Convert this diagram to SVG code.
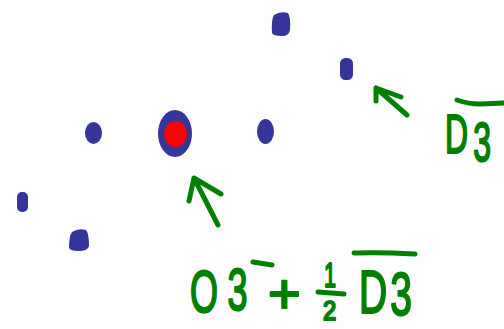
<svg xmlns="http://www.w3.org/2000/svg" width="504" height="329" viewBox="0 0 504 329">
<style>
.dot{fill:#35359b}
.core{fill:#ff0000}
.ink{fill:none;stroke:#008000;stroke-width:5;stroke-linecap:round;stroke-linejoin:round}
.t{font-family:"Liberation Sans",Arial,sans-serif;fill:#008000;stroke:#008000;stroke-width:2.2;stroke-linejoin:round}
</style>
<rect width="504" height="329" fill="#ffffff"/>
<g id="atoms">
<path id="atom1" class="dot" d="M274,15 Q280,11 288,13 Q291,18 290,30 Q289,36 282,36 Q273,36 272,33 Q271,20 274,15 Z"/>
<rect id="atom2" class="dot" x="340" y="58" width="13" height="22" rx="5.5"/>
<ellipse id="atom3" class="dot" cx="93.5" cy="133" rx="8.5" ry="11"/>
<g id="center">
<ellipse class="dot" cx="175" cy="133.5" rx="17" ry="23.5"/>
<ellipse class="core" cx="175.5" cy="134" rx="11.5" ry="13"/>
</g>
<ellipse id="atom4" class="dot" cx="265.5" cy="131.5" rx="8.5" ry="12.5"/>
<rect id="atom5" class="dot" x="17" y="192" width="11" height="20" rx="5"/>
<path id="atom6" class="dot" d="M72,232 Q78,228 86,230 Q89,234 89,246 Q88,251 79,251 Q70,251 69,248 Q69,236 72,232 Z"/>
</g>
<g id="arrows">
<path class="ink" d="M218,225 L194,178 M189,201 L194,178 L221,194"/>
<path class="ink" d="M407,115 L376,88 M376,101 L376,88 L401,97"/>
</g>
<g id="label-right">
<text class="t" font-size="55" transform="translate(445,153) scale(0.58,1)">D<tspan dx="9" dy="8">3</tspan></text>
<path class="ink" d="M457,100 Q468,104 480,104 L504,103"/>
</g>
<g id="label-bottom">
<text class="t" font-size="60" transform="translate(190,312) scale(0.6,1)">O<tspan dx="16" dy="-2">3</tspan></text>
<path class="ink" d="M253,262 L272,265"/>
<text class="t" font-size="56" transform="translate(268,313)">+</text>
<text class="t" font-size="36" transform="translate(324,287) scale(0.6,1)">1</text>
<path class="ink" d="M318,292 L344,294"/>
<text class="t" font-size="28" transform="translate(323,320) scale(0.85,1)">2</text>
<text class="t" font-size="62" transform="translate(359,313) scale(0.63,1)">D<tspan dx="5" dy="2">3</tspan></text>
<path class="ink" d="M354,253 Q380,252 415,254"/>
</g>
</svg>
